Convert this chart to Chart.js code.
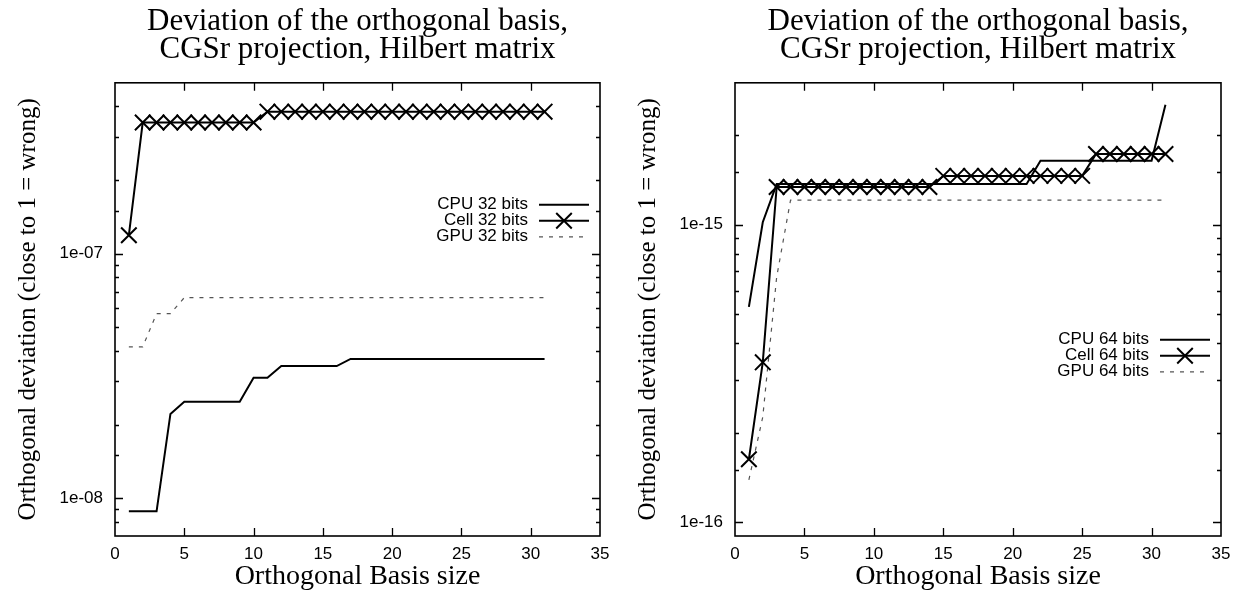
<!DOCTYPE html>
<html>
<head>
<meta charset="utf-8">
<script src="https://cdn.jsdelivr.net/npm/chart.js@4.4.1/dist/chart.umd.min.js"></script>
<style>
  html, body { margin: 0; padding: 0; background: #fff; }
  #wrap { position: relative; width: 1241px; height: 592px; }
  canvas { position: absolute; top: 0; }
  #c32 { left: 0; }
  #c64 { left: 620px; }
</style>
</head>
<body>
<div id="wrap">
  <canvas id="c32" width="620" height="592"></canvas>
  <canvas id="c64" width="621" height="592"></canvas>
</div>
<script>
// basis sizes (x values)
const basisSize = [1, 2, 3, 4, 5, 6, 7, 8, 9, 10, 11, 12, 13, 14, 15, 16, 17, 18, 19, 20, 21, 22, 23, 24, 25, 26, 27, 28, 29, 30, 31];

// 32 bits
const cpu32 = [8.83e-9, 8.83e-9, 8.83e-9, 2.21e-8, 2.48e-8, 2.48e-8, 2.48e-8, 2.48e-8, 2.48e-8, 3.11e-8,
  3.11e-8, 3.47e-8, 3.47e-8, 3.47e-8, 3.47e-8, 3.47e-8, 3.71e-8, 3.71e-8, 3.71e-8, 3.71e-8,
  3.71e-8, 3.71e-8, 3.71e-8, 3.71e-8, 3.71e-8, 3.71e-8, 3.71e-8, 3.71e-8, 3.71e-8, 3.71e-8, 3.71e-8];
const cell32 = [1.19e-7, 3.44e-7, 3.44e-7, 3.44e-7, 3.44e-7, 3.44e-7, 3.44e-7, 3.44e-7, 3.44e-7, 3.44e-7,
  3.81e-7, 3.81e-7, 3.81e-7, 3.81e-7, 3.81e-7, 3.81e-7, 3.81e-7, 3.81e-7, 3.81e-7, 3.81e-7,
  3.81e-7, 3.81e-7, 3.81e-7, 3.81e-7, 3.81e-7, 3.81e-7, 3.81e-7, 3.81e-7, 3.81e-7, 3.81e-7, 3.81e-7];
const gpu32 = [4.16e-8, 4.16e-8, 5.69e-8, 5.69e-8, 6.61e-8, 6.61e-8, 6.61e-8, 6.61e-8, 6.61e-8, 6.61e-8,
  6.61e-8, 6.61e-8, 6.61e-8, 6.61e-8, 6.61e-8, 6.61e-8, 6.61e-8, 6.61e-8, 6.61e-8, 6.61e-8,
  6.61e-8, 6.61e-8, 6.61e-8, 6.61e-8, 6.61e-8, 6.61e-8, 6.61e-8, 6.61e-8, 6.61e-8, 6.61e-8, 6.61e-8];

// 64 bits
const cpu64 = [5.3e-16, 1.02e-15, 1.37e-15, 1.37e-15, 1.37e-15, 1.37e-15, 1.37e-15, 1.37e-15, 1.37e-15, 1.37e-15,
  1.37e-15, 1.37e-15, 1.37e-15, 1.37e-15, 1.37e-15, 1.37e-15, 1.37e-15, 1.37e-15, 1.37e-15, 1.37e-15,
  1.37e-15, 1.64e-15, 1.64e-15, 1.64e-15, 1.64e-15, 1.64e-15, 1.64e-15, 1.64e-15, 1.64e-15, 1.64e-15, 2.53e-15];
const cell64 = [1.63e-16, 3.45e-16, 1.34e-15, 1.34e-15, 1.34e-15, 1.34e-15, 1.34e-15, 1.34e-15, 1.34e-15, 1.34e-15,
  1.34e-15, 1.34e-15, 1.34e-15, 1.34e-15, 1.46e-15, 1.46e-15, 1.46e-15, 1.46e-15, 1.46e-15, 1.46e-15,
  1.46e-15, 1.46e-15, 1.46e-15, 1.46e-15, 1.46e-15, 1.73e-15, 1.73e-15, 1.73e-15, 1.73e-15, 1.73e-15, 1.73e-15];
const gpu64 = [1.39e-16, 2.26e-16, 6.67e-16, 1.21e-15, 1.21e-15, 1.21e-15, 1.21e-15, 1.21e-15, 1.21e-15, 1.21e-15,
  1.21e-15, 1.21e-15, 1.21e-15, 1.21e-15, 1.21e-15, 1.21e-15, 1.21e-15, 1.21e-15, 1.21e-15, 1.21e-15,
  1.21e-15, 1.21e-15, 1.21e-15, 1.21e-15, 1.21e-15, 1.21e-15, 1.21e-15, 1.21e-15, 1.21e-15, 1.21e-15, 1.21e-15];

// tick labels
const xTickValues = [0, 5, 10, 15, 20, 25, 30, 35];
const decades32 = [1e-8, 1e-7];
const decadeLabels32 = ['1e-08', '1e-07'];
const decades64 = [1e-16, 1e-15];
const decadeLabels64 = ['1e-16', '1e-15'];

const titleText = ['Deviation of the orthogonal basis,', 'CGSr projection, Hilbert matrix'];
const xTitle = 'Orthogonal Basis size';
const yTitle = 'Orthogonal deviation (close to 1 = wrong)';

const SERIF = "'Liberation Serif', 'Times New Roman', serif";
const SANS = "'Liberation Sans', Arial, sans-serif";

const toPoints = (ys) => basisSize.map((x, i) => ({ x: x, y: ys[i] }));

// gnuplot style frame + inward ticks
const gnuFrame = {
    id: 'gnuFrame',
    afterDraw(chart) {
        const { ctx, chartArea: a } = chart;
        const xs = chart.scales.x, ys = chart.scales.y;
        ctx.save();
        ctx.strokeStyle = '#000';
        ctx.lineWidth = 1.6;
        ctx.strokeRect(a.left, a.top, a.right - a.left, a.bottom - a.top);
        ctx.lineWidth = 1.3;
        ctx.beginPath();
        xs.ticks.forEach(t => {
            const px = Math.round(xs.getPixelForValue(t.value)) + 0.5;
            if (px <= a.left + 1 || px >= a.right - 1) return;
            ctx.moveTo(px, a.bottom); ctx.lineTo(px, a.bottom - 8);
            ctx.moveTo(px, a.top); ctx.lineTo(px, a.top + 8);
        });
        ys.ticks.forEach(t => {
            const py = Math.round(ys.getPixelForValue(t.value)) + 0.5;
            if (py <= a.top + 1 || py >= a.bottom - 1) return;
            const len = t.label ? 8 : 4;
            ctx.moveTo(a.left, py); ctx.lineTo(a.left + len, py);
            ctx.moveTo(a.right, py); ctx.lineTo(a.right - len, py);
        });
        ctx.stroke();
        ctx.restore();
    }
};

// gnuplot style key: text right aligned, sample line on the right
const gnuKey = {
    id: 'gnuKey',
    afterDatasetsDraw(chart, args, opts) {
        const { ctx, chartArea: a } = chart;
        ctx.save();
        ctx.font = '17px ' + SANS;
        ctx.textAlign = 'right';
        ctx.textBaseline = 'middle';
        chart.data.datasets.forEach((ds, i) => {
            const y = a.top + opts.top + i * 16;
            ctx.fillStyle = '#000';
            ctx.fillText(ds.label, a.right - 72, y);
            ctx.strokeStyle = ds.borderColor;
            ctx.lineWidth = ds.borderWidth;
            ctx.setLineDash(ds.borderDash || []);
            ctx.beginPath();
            ctx.moveTo(a.right - 61, y);
            ctx.lineTo(a.right - 11, y);
            ctx.stroke();
            ctx.setLineDash([]);
            if (ds.pointRadius > 0) {
                const d = ds.pointRadius * Math.SQRT1_2;
                const cx = a.right - 36;
                ctx.lineWidth = ds.pointBorderWidth;
                ctx.beginPath();
                ctx.moveTo(cx - d, y - d); ctx.lineTo(cx + d, y + d);
                ctx.moveTo(cx - d, y + d); ctx.lineTo(cx + d, y - d);
                ctx.stroke();
            }
        });
        ctx.restore();
    }
};

function makeChart(id, bits, cpu, cell, gpu, yMin, yMax, decades, decadeLabels, keyTop) {
    const ctx = document.getElementById(id).getContext('2d');
    return new Chart(ctx, {
        type: 'line',
        data: {
            datasets: [
                {
                    label: 'CPU ' + bits + ' bits',
                    data: toPoints(cpu),
                    borderColor: '#000',
                    borderWidth: 2,
                    pointRadius: 0,
                    tension: 0
                },
                {
                    label: 'Cell ' + bits + ' bits',
                    data: toPoints(cell),
                    borderColor: '#000',
                    borderWidth: 2,
                    pointStyle: 'crossRot',
                    pointRadius: 11,
                    pointBorderWidth: 2,
                    pointBorderColor: '#000',
                    pointBackgroundColor: 'rgba(0,0,0,0)',
                    tension: 0
                },
                {
                    label: 'GPU ' + bits + ' bits',
                    data: toPoints(gpu),
                    borderColor: '#555',
                    borderWidth: 1.2,
                    borderDash: [4, 6],
                    pointRadius: 0,
                    tension: 0
                }
            ]
        },
        options: {
            responsive: false,
            animation: false,
            events: [],
            devicePixelRatio: 1,
            layout: { padding: { left: 0, right: 20, top: 0, bottom: 0 } },
            plugins: {
                legend: { display: false },
                tooltip: { enabled: false },
                title: {
                    display: true,
                    text: titleText,
                    fullSize: false,
                    color: '#000',
                    font: { family: SERIF, size: 31, weight: 'normal', lineHeight: 0.9 },
                    padding: { top: 8, bottom: 19 }
                },
                gnuKey: { top: keyTop }
            },
            scales: {
                x: {
                    type: 'linear',
                    min: 0,
                    max: 35,
                    afterBuildTicks: (s) => { s.ticks = xTickValues.map(v => ({ value: v })); },
                    afterFit: (s) => { s.height = 56; },
                    grid: { display: false, drawTicks: false },
                    border: { display: false },
                    ticks: {
                        color: '#000',
                        padding: 8,
                        maxRotation: 0,
                        autoSkip: false,
                        font: { family: SANS, size: 17 }
                    },
                    title: {
                        display: true,
                        text: xTitle,
                        color: '#000',
                        font: { family: SERIF, size: 28, lineHeight: 1 },
                        padding: { top: 0, bottom: 1.5 }
                    }
                },
                y: {
                    type: 'logarithmic',
                    min: yMin,
                    max: yMax,
                    afterFit: (s) => { s.width = 115; },
                    grid: { display: false, drawTicks: false },
                    border: { display: false },
                    ticks: {
                        color: '#000',
                        padding: 12,
                        autoSkip: false,
                        font: { family: SANS, size: 17 },
                        callback: (v) => {
                            const k = decades.findIndex(d => Math.abs(v / d - 1) < 1e-6);
                            return k >= 0 ? decadeLabels[k] : '';
                        }
                    },
                    title: {
                        display: true,
                        text: yTitle,
                        color: '#000',
                        font: { family: SERIF, size: 25, lineHeight: 1 },
                        padding: { top: 15.5, bottom: 0 }
                    }
                }
            }
        },
        plugins: [gnuFrame, gnuKey]
    });
}

makeChart('c32', 32, cpu32, cell32, gpu32, 7e-9, 5e-7, decades32, decadeLabels32, 122);
makeChart('c64', 64, cpu64, cell64, gpu64, 9e-17, 3e-15, decades64, decadeLabels64, 257);
</script>
</body>
</html>
